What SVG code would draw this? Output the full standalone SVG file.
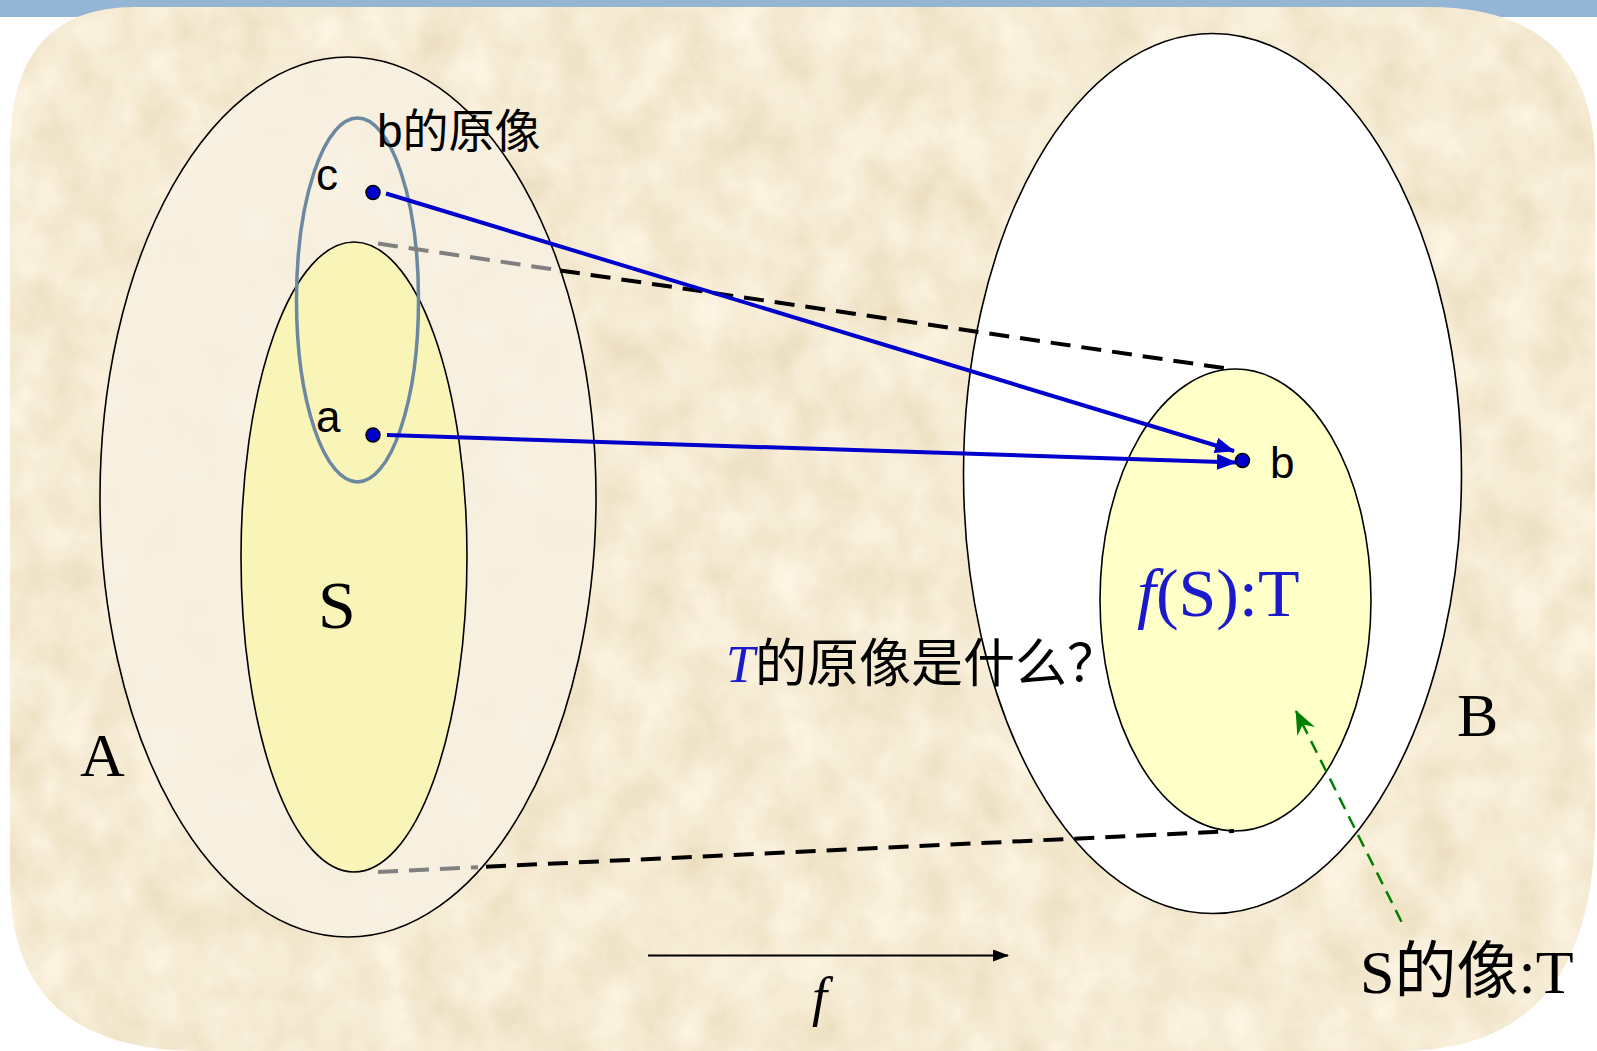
<svg xmlns="http://www.w3.org/2000/svg" width="1597" height="1051" viewBox="0 0 1597 1051">
<style>
.sans{font-family:"Liberation Sans","Noto Sans CJK SC",sans-serif;fill:#000}
.serif{font-family:"Liberation Serif","Noto Sans CJK SC",serif;fill:#000}
.edge{stroke:#000;stroke-width:1.6}
.dashk{fill:none;stroke:#000;stroke-width:4;stroke-dasharray:20 11}
.dashg{fill:none;stroke:#808080;stroke-width:4;stroke-dasharray:20 11}
.map{fill:none;stroke:#0000cc;stroke-width:4}
.dot{fill:#0000cc;stroke:#000;stroke-width:1.5}
</style>
<defs>
<filter id="paper" x="0" y="0" width="100%" height="100%">
<feTurbulence type="fractalNoise" baseFrequency="0.022 0.018" numOctaves="4" seed="7" result="n"/>
<feColorMatrix in="n" type="matrix" values="0.2 0 0 0 0.815  0.25 0 0 0 0.70  0.34 0 0 0 0.48  0 0 0 0 1" result="c"/>
<feComposite in="c" in2="SourceGraphic" operator="in"/>
</filter>
<marker id="ab" viewBox="0 0 20 16" refX="19" refY="8" markerWidth="20" markerHeight="16" markerUnits="userSpaceOnUse" orient="auto">
<path d="M0,0 L20,8 L0,16 Z" fill="#0000cc"/>
</marker>
<marker id="ak" viewBox="0 0 16 12" refX="15" refY="6" markerWidth="16" markerHeight="12" markerUnits="userSpaceOnUse" orient="auto">
<path d="M0,0 L16,6 L0,12 Z" fill="#000"/>
</marker>
<marker id="ag" viewBox="0 0 24 20" refX="23" refY="10" markerWidth="24" markerHeight="20" markerUnits="userSpaceOnUse" orient="auto">
<path d="M0,0 L24,10 L0,20 L8,10 Z" fill="#008000"/>
</marker>
</defs>
<rect x="0" y="0" width="1597" height="17" fill="#95b5d4"/>
<path id="bg" d="M135,7 L1428,7 Q1597,7 1595,170 L1595,820 Q1595,1051 1400,1051 L200,1051 Q10,1051 10,880 L10,150 Q10,7 135,7 Z" fill="#ecd8ae" filter="url(#paper)"/>
<g id="A">
<ellipse cx="348" cy="497" rx="248" ry="440" fill="#f8f1e4" fill-opacity="0.8" class="edge"/>
<text class="serif" x="80" y="776" font-size="62">A</text>
</g>
<g id="S">
<ellipse cx="354" cy="557" rx="113" ry="315" fill="#f9f5b5" fill-opacity="0.92" class="edge"/>
<text class="serif" x="318" y="628" font-size="68">S</text>
</g>
<g id="preimage">
<ellipse cx="357.5" cy="300" rx="61" ry="182" fill="none" stroke="#6c88a0" stroke-width="3.5"/>
<text class="sans" x="377" y="147" font-size="46">b的原像</text>
</g>
<g id="B">
<ellipse cx="1212.5" cy="473.5" rx="249" ry="440" fill="#fff" class="edge"/>
<text class="serif" x="1457" y="736" font-size="62">B</text>
</g>
<g id="T">
<ellipse cx="1235.5" cy="600" rx="135.5" ry="231" fill="#ffffc8" class="edge"/>
<text class="serif" x="1137" y="616" font-size="68" style="fill:#1a1acc"><tspan font-style="italic">f</tspan>(S):T</text>
</g>
<g id="connectors">
<line class="dashg" x1="378" y1="243.5" x2="552" y2="269.2"/>
<line class="dashk" x1="560" y1="270.4" x2="1228" y2="368.7"/>
<line class="dashg" x1="378" y1="872" x2="478" y2="867.2"/>
<line class="dashk" x1="486" y1="866.8" x2="1234" y2="831"/>
<line class="map" x1="386" y1="193.5" x2="1234" y2="451" marker-end="url(#ab)"/>
<line class="map" x1="387" y1="435" x2="1236" y2="462.4" marker-end="url(#ab)"/>
<line x1="1401.5" y1="921.7" x2="1296" y2="711" stroke="#008000" stroke-width="2.5" stroke-dasharray="13 8" marker-end="url(#ag)"/>
<line x1="648" y1="955.5" x2="1008" y2="955.5" stroke="#000" stroke-width="2.2" marker-end="url(#ak)"/>
</g>
<g id="c">
<circle class="dot" cx="373" cy="192.5" r="7"/>
<text class="sans" x="316" y="190" font-size="44">c</text>
</g>
<g id="a">
<circle class="dot" cx="373" cy="435" r="7"/>
<text class="sans" x="316" y="432" font-size="44">a</text>
</g>
<g id="b">
<circle class="dot" cx="1242.5" cy="460.5" r="7"/>
<text class="sans" x="1270" y="478" font-size="44">b</text>
</g>
<g id="question">
<text x="726" y="682" font-size="52" font-family="Liberation Sans, Noto Sans CJK SC, sans-serif"><tspan font-family="Liberation Serif, serif" font-style="italic" fill="#1a1acc" font-size="52">T</tspan><tspan fill="#000">的原像是什么？</tspan></text>
</g>
<g id="imageLabel">
<text class="serif" x="1360" y="993" font-size="62">S的像:T</text>
</g>
<g id="fLabel">
<text class="serif" x="812" y="1015" font-size="54" font-style="italic">f</text>
</g>
</svg>
